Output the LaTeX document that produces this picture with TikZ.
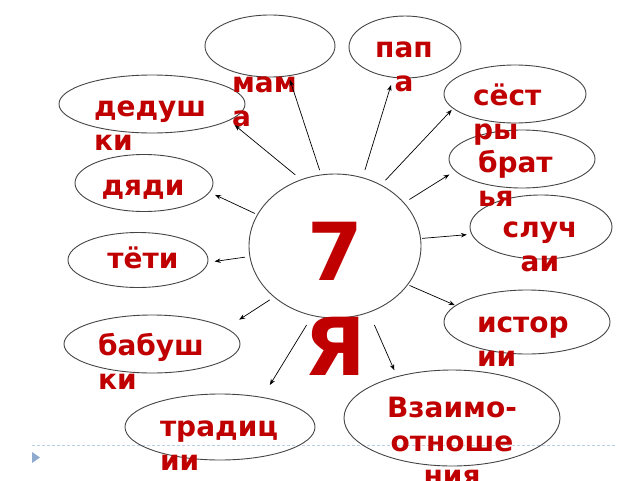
\documentclass[tikz,border=0pt]{standalone}
\usepackage{fontspec}
\setmainfont{DejaVu Sans}
\usetikzlibrary{shapes.geometric,arrows.meta}
\definecolor{txtred}{HTML}{C00000}
\definecolor{ovalgray}{HTML}{454545}
\definecolor{seplinecol}{HTML}{B9CDE5}
\definecolor{tricol}{HTML}{8FAACF}
\begin{document}
\begin{tikzpicture}[x=1pt,y=-1pt,
  oval/.style={ellipse, draw=ovalgray, line width=0.9pt, inner sep=0pt, outer sep=0pt},
  lbl/.style={font=\bfseries\fontsize{28}{34}\selectfont, text=txtred, inner sep=0pt, outer sep=0pt},
  big/.style={font=\bfseries\fontsize{80}{95}\selectfont, text=txtred, inner sep=0pt, outer sep=0pt},
  arr/.style={-{Stealth[length=6pt,width=4.5pt]}, line width=0.7pt, black},
  sepline/.style={draw=seplinecol, line width=1pt, dash pattern=on 3pt off 2pt},
]
\useasboundingbox (0,0) rectangle (640,480);
\fill[white] (0,0) rectangle (640,480);

% decorative separator
\coordinate (sepL) at (32,445);
\coordinate (sepR) at (617,445);
\draw[sepline] (sepL) -- (sepR);
\fill[tricol] (32,452) -- (40,457.5) -- (32,463) -- cycle;

% ovals
\node[oval, minimum width=172pt, minimum height=144pt] (c) at (335,246) {};
\node[oval, minimum width=130pt, minimum height=62pt] (mama) at (270,46) {};
\node[oval, minimum width=112pt, minimum height=62pt] (papa) at (405,47) {};
\node[oval, minimum width=142pt, minimum height=58pt] (sestry) at (515,94) {};
\node[oval, minimum width=146pt, minimum height=58pt] (bratya) at (522,159) {};
\node[oval, minimum width=142pt, minimum height=64pt] (sluchai) at (541,227) {};
\node[oval, minimum width=166pt, minimum height=64pt] (istorii) at (527,322) {};
\node[oval, minimum width=216pt, minimum height=96pt] (vzaimo) at (452,418) {};
\node[oval, minimum width=190pt, minimum height=66pt] (tradicii) at (220,427) {};
\node[oval, minimum width=176pt, minimum height=58pt] (babushki) at (152,344) {};
\node[oval, minimum width=140pt, minimum height=55pt] (teti) at (138,260) {};
\node[oval, minimum width=138pt, minimum height=57pt] (dyadi) at (144,183) {};
\node[oval, minimum width=186pt, minimum height=58pt] (dedushki) at (152,104) {};

% labels (base anchor = baseline of the last line)
\node[lbl, anchor=base west, align=left] (tmama) at (232,126) {мам\\а};
\node[lbl, anchor=base, align=center] (tpapa) at (404,91) {пап\\а};
\node[lbl, anchor=base west, align=left] (tsestry) at (473,139) {сёст\\ры};
\node[lbl, anchor=base west, align=left] (tbratya) at (478,206) {брат\\ья};
\node[lbl, anchor=base, align=center] (tsluchai) at (540,271) {случ\\аи};
\node[lbl, anchor=base west, align=left] (tistorii) at (477,366) {истор\\ии};
\node[lbl, anchor=base, align=center] (tvzaimo) at (452,485) {Взаимо-\\отноше\\ния};
\node[lbl, anchor=base west, align=left] (ttradicii) at (160,470) {традиц\\ии};
\node[lbl, anchor=base west, align=left] (tbabushki) at (98,389) {бабуш\\ки};
\node[lbl, anchor=base] (tteti) at (143,268) {тёти};
\node[lbl, anchor=base] (tdyadi) at (143,195) {дяди};
\node[lbl, anchor=base west, align=left] (tdedushki) at (94,150) {дедуш\\ки};
\node[big, anchor=base, align=center] (tcenter) at (335,375) {7\\Я};

% connectors
\draw[arr, shorten <=5pt, shorten >=4.5pt] (c.101) -- (mama.302);
\draw[arr, shorten <=7.7pt, shorten >=7.5pt] (c.117) -- (dedushki.348);
\draw[arr, shorten <=3pt, shorten >=6.4pt] (c.158) -- (dyadi.352);
\draw[arr, shorten <=5pt, shorten >=7pt] (c.187) -- (teti.358);
\draw[arr, shorten <=5.3pt, shorten >=15.8pt] (c.220) -- (babushki.12);
\draw[arr, shorten <=11.3pt, shorten >=14.6pt] (c.252) -- (tradicii.35);
\draw[arr, shorten <=14pt, shorten >=7pt] (c.297) -- (vzaimo.143);
\draw[arr, shorten <=2.2pt, shorten >=1.1pt] (c.332) -- (istorii.167);
\draw[arr, shorten <=1.5pt, shorten >=5pt] (c.5) -- (sluchai.186);
\draw[arr, shorten <=6.5pt, shorten >=7pt] (c.32) -- (bratya.190);
\draw[arr, shorten <=6.7pt, shorten >=2.1pt] (c.53) -- (sestry.193);
\draw[arr, shorten <=8.2pt, shorten >=8pt] (c.68) -- (papa.249);
\end{tikzpicture}
\end{document}
